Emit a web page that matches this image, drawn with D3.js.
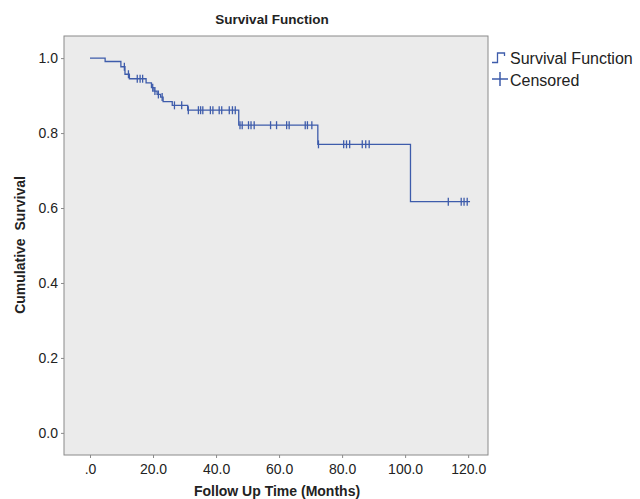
<!DOCTYPE html>
<html>
<head>
<meta charset="utf-8">
<script src="https://cdn.jsdelivr.net/npm/d3@7/dist/d3.min.js"></script>
<style>
  body { margin: 0; background: #fff; }
  text { font-family: "Liberation Sans", Arial, sans-serif; fill: #222; }
</style>
</head>
<body>
<svg width="640" height="499"></svg>
<script>
// step times (months) and survival level after each step
var stepTimes = [0, 4.8, 9.8, 11.1, 12.5, 17.8, 19.5, 20.3, 21.3, 22.4, 23.2, 26.1, 31.0, 47.2, 72.3, 101.7];
var survival  = [1.0, 0.991, 0.977, 0.957, 0.945, 0.934, 0.921, 0.912, 0.903, 0.896, 0.884, 0.874, 0.861, 0.821, 0.770, 0.617];
var lastTime = 120.6;

// censored observations (months)
var censorTimes = [10.9, 12.2, 15.0, 15.9, 16.7, 19.9, 20.6, 21.7, 22.9, 26.8, 29.1,
    31.2, 34.4, 35.1, 35.8, 38.2, 39.0, 41.0, 41.8, 44.2, 45.2, 46.1,
    47.6, 48.3, 50.3, 51.1, 52.1, 57.3, 59.2, 62.4, 63.2, 68.3, 69.0, 70.4,
    72.5, 80.5, 81.4, 82.4, 86.4, 87.5, 88.6, 113.7, 117.8, 118.7, 119.7];

var xTicks = [0, 20, 40, 60, 80, 100, 120];
var yTicks = [0, 0.2, 0.4, 0.6, 0.8, 1.0];

var lineColor = '#3e5cab';

var svg = d3.select('svg');
var frame = {left: 64, right: 488, top: 36, bottom: 455};

var x = d3.scaleLinear().domain([-8.25, 126.3]).range([frame.left, frame.right]);
var y = d3.scaleLinear().domain([-0.059, 1.059]).range([frame.bottom, frame.top]);

svg.append('rect')
    .attr('x', frame.left).attr('y', frame.top)
    .attr('width', frame.right - frame.left).attr('height', frame.bottom - frame.top)
    .attr('fill', '#ebebeb').attr('stroke', '#8a8a8a').attr('stroke-width', 1);

function styleAxis(g) {
    g.select('.domain').remove();
    g.selectAll('.tick line').attr('stroke', '#8a8a8a');
    g.selectAll('.tick text').attr('font-size', 14).attr('fill', '#222')
        .attr('font-family', '"Liberation Sans", Arial, sans-serif');
}

svg.append('g')
    .attr('transform', 'translate(0,' + frame.bottom + ')')
    .call(d3.axisBottom(x).tickValues(xTicks).tickSize(3).tickPadding(6)
        .tickFormat(function(d) { return d === 0 ? '.0' : d.toFixed(1); }))
    .call(styleAxis);

svg.append('g')
    .attr('transform', 'translate(' + frame.left + ',0)')
    .call(d3.axisLeft(y).tickValues(yTicks).tickSize(3).tickPadding(3)
        .tickFormat(d3.format('.1f')))
    .call(styleAxis);

// survival step line
var pts = stepTimes.map(function(t, i) { return [t, survival[i]]; });
pts.push([lastTime, survival[survival.length - 1]]);

svg.append('path')
    .datum(pts)
    .attr('fill', 'none')
    .attr('stroke', lineColor)
    .attr('stroke-width', 1.3)
    .attr('d', d3.line()
        .x(function(d) { return x(d[0]); })
        .y(function(d) { return y(d[1]); })
        .curve(d3.curveStepAfter));

function levelAt(t) {
    return survival[d3.bisectRight(stepTimes, t) - 1];
}

svg.append('g').selectAll('line')
    .data(censorTimes)
    .enter()
    .append('line')
    .attr('x1', function(t) { return x(t); })
    .attr('x2', function(t) { return x(t); })
    .attr('y1', function(t) { return y(levelAt(t)) - 4; })
    .attr('y2', function(t) { return y(levelAt(t)) + 4; })
    .attr('stroke', lineColor)
    .attr('stroke-width', 1.3);

// titles
svg.append('text')
    .attr('x', 272).attr('y', 24)
    .attr('text-anchor', 'middle')
    .attr('font-size', 13.5).attr('font-weight', 'bold')
    .text('Survival Function');

svg.append('text')
    .attr('x', 277).attr('y', 496)
    .attr('text-anchor', 'middle')
    .attr('font-size', 14).attr('font-weight', 'bold')
    .text('Follow Up Time (Months)');

svg.append('text')
    .attr('transform', 'translate(25,' + 245 + ') rotate(-90)')
    .attr('text-anchor', 'middle')
    .attr('font-size', 14).attr('font-weight', 'bold')
    .style('white-space', 'pre')
    .text('Cumulative  Survival');

// legend
var legend = svg.append('g');
legend.append('path')
    .attr('d', 'M492,62.5H497.5V53H504.5V56')
    .attr('fill', 'none').attr('stroke', lineColor).attr('stroke-width', 1.3);
legend.append('text')
    .attr('x', 510).attr('y', 64)
    .attr('font-size', 16)
    .text('Survival Function');
legend.append('path')
    .attr('d', 'M500,72V86M492,79H508')
    .attr('fill', 'none').attr('stroke', lineColor).attr('stroke-width', 1.5);
legend.append('text')
    .attr('x', 510).attr('y', 86)
    .attr('font-size', 16)
    .text('Censored');
</script>
</body>
</html>
